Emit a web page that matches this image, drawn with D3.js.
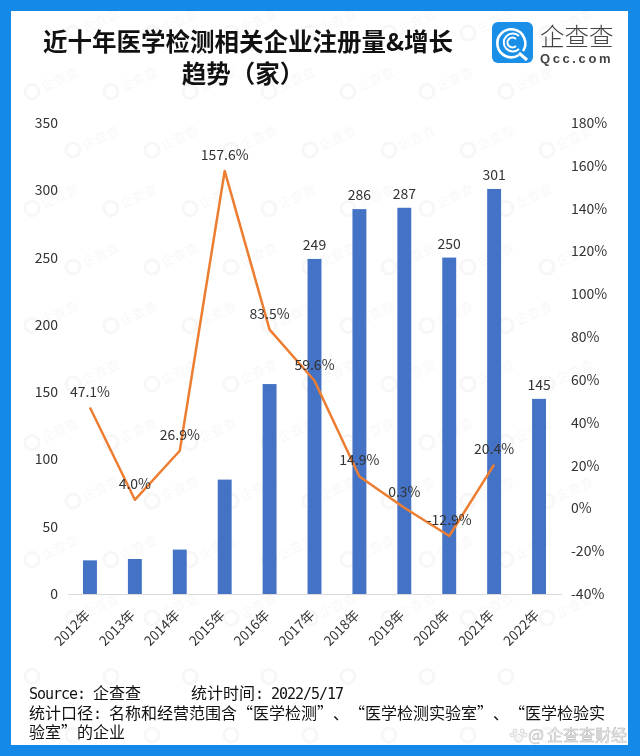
<!DOCTYPE html>
<html>
<head>
<meta charset="utf-8">
<script src="https://cdn.jsdelivr.net/npm/d3@7/dist/d3.min.js"></script>
<style>
  html, body { margin: 0; padding: 0; background: #1589e8; }
  svg { display: block; }
  text { text-spacing-trim: space-all; font-kerning: none; }
</style>
</head>
<body>
<svg id="chart"></svg>
<script>
const years = ["2012年","2013年","2014年","2015年","2016年","2017年","2018年","2019年","2020年","2021年","2022年"];
const counts = [25, 26, 33, 85, 156, 249, 286, 287, 250, 301, 145];
const countLabels = [null, null, null, null, null, "249", "286", "287", "250", "301", "145"];
const growth = [47.1, 4.0, 26.9, 157.6, 83.5, 59.6, 14.9, 0.3, -12.9, 20.4];
const leftTicks = [0, 50, 100, 150, 200, 250, 300, 350];
const rightTicks = [-40, -20, 0, 20, 40, 60, 80, 100, 120, 140, 160, 180];

const cjk = '"Noto Sans CJK SC", sans-serif';
const mono = '"DejaVu Sans Mono", monospace';
const textColor = "#333";

const width = 640, height = 756;
const svg = d3.select("#chart").attr("width", width).attr("height", height);

// white card on the blue page
svg.append("rect").attr("width", width).attr("height", height).attr("fill", "#1589e8");
svg.append("rect").attr("x", 11).attr("y", 11).attr("width", 617).attr("height", 734).attr("fill", "#fff");

// faint watermark, staggered rows. rows behind the footer keep only the ring
const wm = svg.append("g").attr("opacity", 0.035);
d3.range(0, 13).forEach(r => {
  d3.range(0, 8).forEach(c => {
    const px = (r % 2 ? 32 : 73) + c * 79;
    const py = 33 + r * 58.5;
    if (px > 575) return;
    const g = wm.append("g").attr("transform", `translate(${px},${py}) rotate(-25)`);
    g.append("circle").attr("r", 7).attr("fill", "none").attr("stroke", "#000").attr("stroke-width", 3);
    if (r < 11) {
      g.append("text").attr("x", 11).attr("y", 5).attr("font-family", cjk).attr("font-size", 13).attr("fill", "#000").text("企查查");
    }
  });
});

// title
const title = svg.append("g").attr("font-family", cjk).attr("font-weight", 700)
  .attr("font-size", 24.5).attr("fill", "#111").attr("text-anchor", "middle");
title.append("text").attr("x", 248).attr("y", 51).text("近十年医学检测相关企业注册量&增长");
title.append("text").attr("x", 243).attr("y", 83).text("趋势（家）");

// logo
const logo = svg.append("g").attr("transform", "translate(492,22)");
logo.append("rect").attr("width", 41).attr("height", 41).attr("rx", 6).attr("fill", "#1a8fe8");
logo.append("path").attr("d", "M31 29 A14 14 0 1 0 27 33").attr("fill", "none").attr("stroke", "#fff").attr("stroke-width", 2.6);
logo.append("path").attr("d", "M27 14 A9 9 0 1 0 27 27").attr("fill", "none").attr("stroke", "#fff").attr("stroke-width", 2);
logo.append("path").attr("d", "M24 17 A5 5 0 1 0 24 24").attr("fill", "none").attr("stroke", "#fff").attr("stroke-width", 2);
logo.append("path").attr("d", "M27 31 L35 38").attr("stroke", "#fff").attr("stroke-width", 3);
svg.append("text").attr("x", 540).attr("y", 46).attr("font-family", cjk).attr("font-size", 24.5).attr("font-weight", 300).attr("fill", "#444").text("企查查");
svg.append("text").attr("x", 540).attr("y", 63).attr("font-family", "'Liberation Sans', sans-serif").attr("font-size", 13).attr("letter-spacing", 2.6).attr("font-weight", 700).attr("fill", "#444").text("Qcc.com");

// scales
const x = d3.scaleBand().domain(years).range([67.5, 561.5]).paddingInner(0.69).paddingOuter(0.345);
const yLeft = d3.scaleLinear().domain([0, 350]).range([594, 123]);
const yRight = d3.scaleLinear().domain([-40, 180]).range([594, 123]);
const cx = d => x(d) + x.bandwidth() / 2;

// bars
svg.append("g").selectAll("rect").data(counts).join("rect")
  .attr("x", (d, i) => x(years[i]))
  .attr("y", d => yLeft(d))
  .attr("width", x.bandwidth())
  .attr("height", d => yLeft(0) - yLeft(d))
  .attr("fill", "#4472c4");

// axes
const axLeft = svg.append("g").attr("transform", "translate(67,0)")
  .call(d3.axisLeft(yLeft).tickValues(leftTicks).tickSize(0).tickPadding(9));
const axRight = svg.append("g").attr("transform", "translate(561,0)")
  .call(d3.axisRight(yRight).tickValues(rightTicks).tickSize(0).tickPadding(10).tickFormat(d => d + "%"));
const axBottom = svg.append("g").attr("transform", "translate(0,594)")
  .call(d3.axisBottom(x).tickSize(0));
[axLeft, axRight].forEach(a => a.select(".domain").remove());
axBottom.select(".domain").attr("stroke", "#d9d9d9").attr("stroke-width", 1);
[axLeft, axRight, axBottom].forEach(a => a.selectAll("text")
  .attr("font-family", cjk).attr("font-size", 14).attr("fill", textColor));
axBottom.selectAll("text")
  .attr("font-size", 13.5)
  .attr("text-anchor", "end").attr("dy", 0).attr("y", 0)
  .attr("transform", "translate(1,22) rotate(-45)");

// growth line
const line = d3.line().x((d, i) => cx(years[i])).y(d => yRight(d));
svg.append("path").datum(growth).attr("d", line)
  .attr("fill", "none").attr("stroke", "#ed7d31").attr("stroke-width", 2.5).attr("stroke-linejoin", "round");

// data labels
svg.append("g").selectAll("text").data(countLabels).join("text")
  .attr("x", (d, i) => cx(years[i]))
  .attr("y", (d, i) => yLeft(counts[i]) - 9)
  .attr("text-anchor", "middle").attr("font-family", cjk).attr("font-size", 14).attr("fill", textColor)
  .text(d => d);
svg.append("g").selectAll("text").data(growth).join("text")
  .attr("x", (d, i) => cx(years[i]))
  .attr("y", d => yRight(d) - 11)
  .attr("text-anchor", "middle").attr("font-family", cjk).attr("font-size", 14).attr("fill", textColor)
  .text(d => d.toFixed(1) + "%");

// footer, latin set in mono at half the cjk width. each run is its own text, placed after the last
function footer(px, py, parts) {
  let at = px;
  parts.forEach(([s, latin]) => {
    const t = svg.append("text").attr("x", at).attr("y", py).attr("fill", "#111")
      .style("white-space", "pre")
      .attr("font-family", latin ? mono : cjk)
      .attr("font-size", latin ? 15 : 16)
      .attr("letter-spacing", latin ? -1.03 : 0)
      .text(s);
    at += t.node().getComputedTextLength();
  });
}
footer(29, 699, [["Source:", true]]);
footer(93, 699, [["企查查", false]]);
footer(191, 699, [["统计时间", false], [": 2022/5/17", true]]);
footer(29, 719, [["统计口径", false], [":", true]]);
footer(109, 719, [["名称和经营范围含“医学检测”、“医学检测实验室”、“医学检验实", false]]);
footer(29, 738, [["验室”的企业", false]]);

// platform mark, bottom right
const mark = svg.append("g").attr("font-family", cjk).attr("fill", "#f6f6f6").attr("stroke", "#b4b4b4").attr("stroke-width", 0.5);
mark.append("text").attr("x", 528).attr("y", 741).attr("font-size", 17).text("@");
mark.append("text").attr("x", 547).attr("y", 741).attr("font-size", 16).text("企查查财经");
[[515, 731, 2], [522, 731, 2], [512, 735, 2], [525, 735, 2], [518.5, 738, 4]].forEach(([a, b, r]) => {
  mark.append("circle").attr("cx", a).attr("cy", b).attr("r", r);
});
</script>
</body>
</html>
